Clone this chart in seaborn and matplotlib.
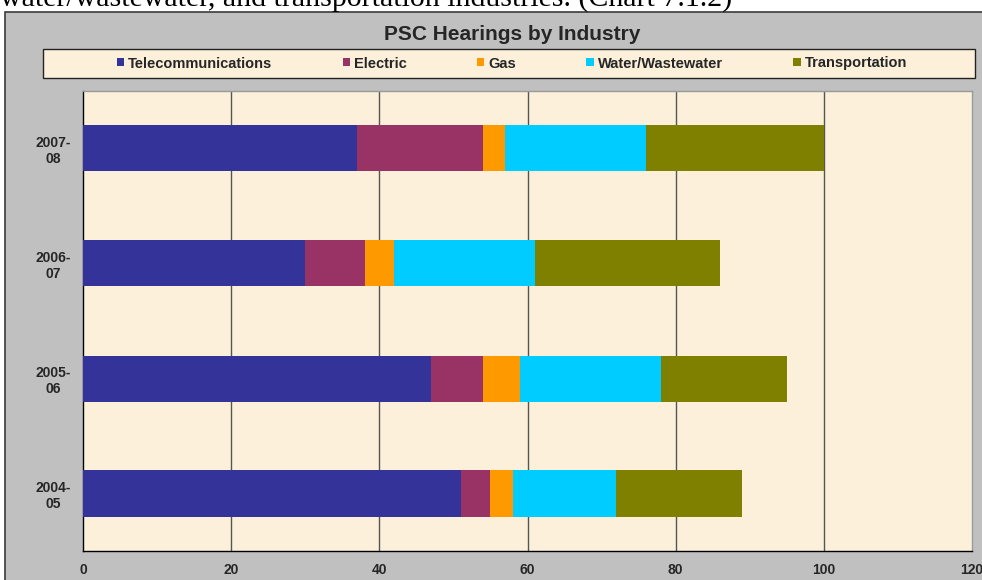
import matplotlib.pyplot as plt
import seaborn as sns
import pandas as pd
from matplotlib.patches import Rectangle, Patch

# data
years = ["2007-08", "2006-07", "2005-06", "2004-05"]
year_labels = ["2007-\n08", "2006-\n07", "2005-\n06", "2004-\n05"]
industries = ["Telecommunications", "Electric", "Gas", "Water/Wastewater", "Transportation"]
telecom = [37, 30, 47, 51]
electric = [17, 8, 7, 4]
gas = [3, 4, 5, 3]
water = [19, 19, 19, 14]
transport = [24, 25, 17, 17]
colors = ["#333399", "#993366", "#FF9900", "#00CCFF", "#808000"]

parchment = "#FCF0DA"
panel_gray = "#C0C0C0"

df = pd.DataFrame({"Year": years, "Telecommunications": telecom, "Electric": electric,
                   "Gas": gas, "Water/Wastewater": water, "Transportation": transport})

# running totals for the stack, drawn from the longest bar down
cum = df[industries].cumsum(axis=1)

sns.set_style("white")
plt.rcParams["font.family"] = ["Liberation Sans", "DejaVu Sans"]

fig = plt.figure(figsize=(9.82, 5.80), dpi=100, facecolor="white")

# grey chart panel and caption text above it
fig.patches.append(Rectangle((5 / 982, -0.05), 1.1, 1 - 12 / 580 + 0.05, transform=fig.transFigure,
                             facecolor=panel_gray, edgecolor="#3a3a3a", linewidth=1.2, zorder=-2))
fig.text(0.0, 1 - 6 / 580, "water/wastewater, and transportation industries. (Chart 7.1.2)",
         family="Liberation Serif", fontsize=21.5, va="baseline", ha="left", color="black")

ax = fig.add_axes([83 / 982, 29 / 580, 889 / 982, 460 / 580])
ax.set_facecolor(parchment)

for name, col in reversed(list(zip(industries, colors))):
    sns.barplot(x=cum[name], y=df["Year"], order=years, color=col, saturation=1,
                width=0.4, orient="h", errorbar=None, ax=ax, zorder=3, linewidth=0)

ax.set_xlim(0, 120)
ax.set_ylim(3.5, -0.5)
ax.set_xticks(range(0, 121, 20))
ax.set_xticklabels([str(v) for v in range(0, 121, 20)], fontweight="bold", fontsize=10)
ax.set_yticks(range(len(years)))
ax.set_yticklabels(year_labels, fontweight="bold", fontsize=10, multialignment="center")
ax.set_yticks([i - 0.5 for i in range(len(years) + 1)], minor=True)
ax.tick_params(axis="y", which="major", length=0, pad=8.5)
ax.tick_params(axis="y", which="minor", length=4, width=1, direction="out", color="black")
ax.tick_params(axis="x", length=3, width=1, direction="out", pad=6, color="black")
ax.set_xlabel("")
ax.set_ylabel("")

for v in range(20, 101, 20):
    ax.axvline(v, color="#555555", linewidth=1, zorder=1)

for side in ["left", "bottom"]:
    ax.spines[side].set_color("black")
    ax.spines[side].set_linewidth(1)
for side in ["top", "right"]:
    ax.spines[side].set_color("#9a9a9a")
    ax.spines[side].set_linewidth(1)

fig.text(512 / 982, 1 - 34 / 580, "PSC Hearings by Industry", ha="center", va="center",
         fontsize=15, fontweight="bold")

# legend box
fig.patches.append(Rectangle((43 / 982, 1 - 78 / 580), 932 / 982, 29 / 580, transform=fig.transFigure,
                             facecolor=parchment, edgecolor="#222222", linewidth=1, zorder=-1))
handles = [Patch(facecolor=c, edgecolor="none") for c in colors]
fig.legend(handles, industries, loc="center", bbox_to_anchor=(512 / 982, 1 - 63.5 / 580), ncol=5,
           frameon=False, prop={"weight": "bold", "size": 10.5}, handlelength=0.5, handleheight=0.5,
           handletextpad=0.3, columnspacing=4.8)

fig.savefig("out.png", dpi=100, facecolor="white")
